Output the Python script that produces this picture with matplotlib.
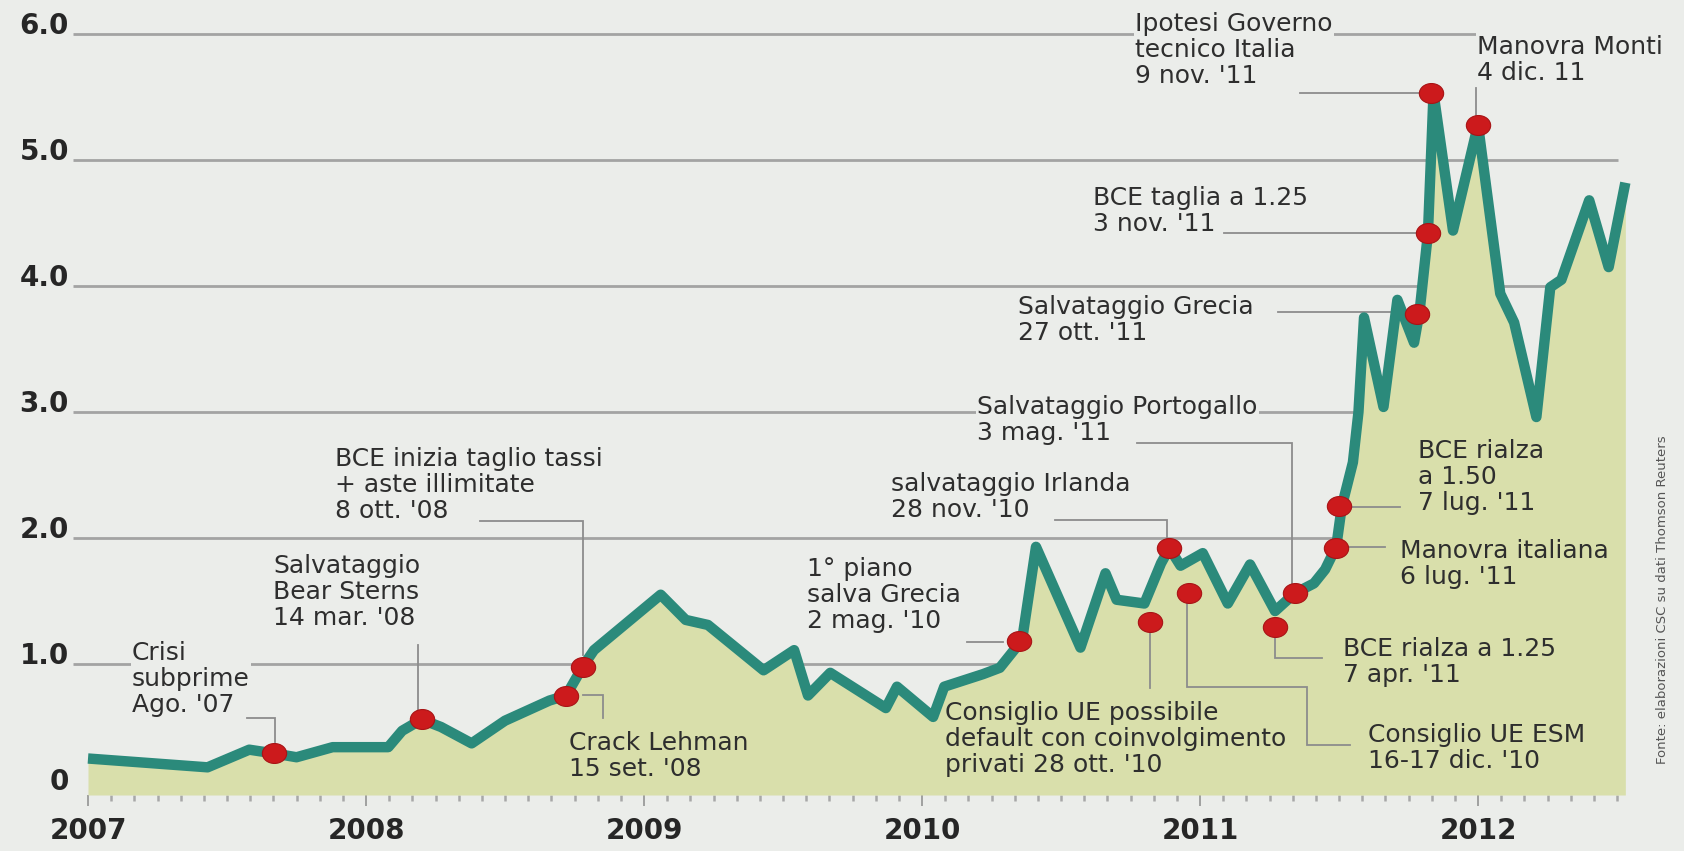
import matplotlib
matplotlib.use("Agg")
import matplotlib.pyplot as plt
from matplotlib.path import Path
from matplotlib.transforms import Affine2D
from matplotlib.ticker import MultipleLocator

# ---------------- data (decimal year, spread in percentage points) ----------------
spread_t = [2007.00, 2007.43, 2007.58, 2007.67, 2007.75, 2007.88, 2008.08, 2008.13, 2008.20, 2008.27,
            2008.38, 2008.50, 2008.66, 2008.72, 2008.78, 2008.82, 2009.06, 2009.15, 2009.23, 2009.43,
            2009.54, 2009.59, 2009.67, 2009.87, 2009.91, 2010.04, 2010.08, 2010.22, 2010.28, 2010.36,
            2010.41, 2010.57, 2010.66, 2010.70, 2010.80, 2010.86, 2010.89, 2010.93, 2011.01, 2011.10,
            2011.18, 2011.27, 2011.34, 2011.41, 2011.45, 2011.49, 2011.51, 2011.55, 2011.57, 2011.59,
            2011.66, 2011.71, 2011.77, 2011.79, 2011.82, 2011.84, 2011.91, 2012.00, 2012.08, 2012.13,
            2012.21, 2012.26, 2012.30, 2012.40, 2012.47, 2012.53]
spread_v = [0.25, 0.18, 0.32, 0.29, 0.26, 0.34, 0.34, 0.47, 0.56, 0.50,
            0.37, 0.55, 0.71, 0.75, 0.98, 1.11, 1.55, 1.35, 1.31, 0.95,
            1.11, 0.75, 0.93, 0.65, 0.82, 0.58, 0.82, 0.92, 0.97, 1.19,
            1.93, 1.13, 1.72, 1.51, 1.48, 1.80, 1.92, 1.78, 1.88, 1.48,
            1.79, 1.42, 1.56, 1.64, 1.75, 1.93, 2.25, 2.60, 3.00, 3.75,
            3.04, 3.89, 3.55, 3.80, 4.42, 5.53, 4.44, 5.28, 3.94, 3.71,
            2.96, 3.99, 4.05, 4.68, 4.15, 4.82]

event_t = [2007.67, 2008.20, 2008.72, 2008.78, 2010.35, 2010.82, 2010.89, 2010.96,
           2011.27, 2011.34, 2011.49, 2011.50, 2011.78, 2011.82, 2011.83, 2012.00]
event_v = [0.29, 0.56, 0.75, 0.98, 1.18, 1.33, 1.92, 1.56,
           1.29, 1.56, 1.92, 2.25, 3.78, 4.42, 5.53, 5.28]
event_labels = [
    "Crisi\nsubprime\nAgo. '07",
    "Salvataggio\nBear Sterns\n14 mar. '08",
    "Crack Lehman\n15 set. '08",
    "BCE inizia taglio tassi\n+ aste illimitate\n8 ott. '08",
    "1° piano\nsalva Grecia\n2 mag. '10",
    "Consiglio UE possibile\ndefault con coinvolgimento\nprivati 28 ott. '10",
    "salvataggio Irlanda\n28 nov. '10",
    "Consiglio UE ESM\n16-17 dic. '10",
    "BCE rialza a 1.25\n7 apr. '11",
    "Salvataggio Portogallo\n3 mag. '11",
    "Manovra italiana\n6 lug. '11",
    "BCE rialza\na 1.50\n7 lug. '11",
    "Salvataggio Grecia\n27 ott. '11",
    "BCE taglia a 1.25\n3 nov. '11",
    "Ipotesi Governo\ntecnico Italia\n9 nov. '11",
    "Manovra Monti\n4 dic. 11",
]

year_ticks = [2007, 2008, 2009, 2010, 2011, 2012]
year_labels = ["2007", "2008", "2009", "2010", "2011", "2012"]
y_levels = [0, 1, 2, 3, 4, 5, 6]
y_labels = ["0", "1.0", "2.0", "3.0", "4.0", "5.0", "6.0"]
source = "Fonte: elaborazioni CSC su dati Thomson Reuters"

# ---------------- layout (reference pixel positions) ----------------
W, H = 1684, 851
BG = "#ebedea"
FILL = "#d9dfab"
TEAL = "#2b8a7b"
RED = "#cc1a1c"
GRID = "#a3a3a3"
LEAD = "#8c8c8c"
TXT = "#2e2e2e"
AXTXT = "#262626"


def px(x, y):
    return 2007 + (x - 88) / 278.0, (790 - y) / 126.0


# label: (left px, centre px, boxed?)
label_pos = [(132, 679, True), (273, 592, True), (569, 756, False), (335, 485, True),
             (807, 595, True), (945, 739, False), (891, 497, True), (1368, 748, False),
             (1343, 662, False), (977, 420, True), (1400, 564, False), (1418, 477, False),
             (1018, 320, True), (1093, 211, True), (1135, 50, True), (1477, 60, True)]
leaders = [
    [(247, 718), (275, 718), (275, 742)],
    [(418, 645), (418, 712)],
    [(583, 695), (603, 695), (603, 718)],
    [(480, 521), (583, 521), (583, 655)],
    [(967, 642), (1003, 642)],
    [(1150, 630), (1150, 688)],
    [(1055, 520), (1167, 520), (1167, 538)],
    [(1187, 600), (1187, 687), (1307, 687), (1307, 745), (1350, 745)],
    [(1275, 635), (1275, 658), (1322, 658)],
    [(1137, 443), (1292, 443), (1292, 585)],
    [(1345, 547), (1385, 547)],
    [(1350, 507), (1400, 507)],
    [(1278, 312), (1405, 312)],
    [(1224, 233), (1418, 233)],
    [(1300, 93), (1420, 93)],
    [(1476, 88), (1476, 115)],
]

x0, y_top = px(73, 20)
x1, y_bot = px(1631, 795)

fig = plt.figure(figsize=(W / 100, H / 100), dpi=100, facecolor=BG)
ax = fig.add_axes([73 / W, (H - 795) / H, (1631 - 73) / W, (795 - 20) / H])
ax.set_facecolor(BG)
ax.set_xlim(x0, x1)
ax.set_ylim(y_bot, y_top)
for s in ax.spines.values():
    s.set_visible(False)

# gridlines
ax.hlines(y_levels[1:], x0, px(1618, 0)[0], colors=GRID, lw=2.0, zorder=1)

# area + line
ax.fill_between(spread_t, spread_v, y_bot, color=FILL, lw=0, zorder=2)

for lab, (lx, ly, boxed) in zip(event_labels, label_pos):
    bx = dict(boxstyle="square,pad=0.06", fc=BG, ec="none") if boxed else None
    ax.text(*px(lx, ly), lab, ha="left", va="center", fontsize=18, color=TXT,
            linespacing=1.13, zorder=3, bbox=bx)

for pts in leaders:
    xs, ys = zip(*[px(a, b) for a, b in pts])
    ax.plot(xs, ys, color=LEAD, lw=1.3, zorder=4, solid_joinstyle="miter")

ax.plot(spread_t, spread_v, color=TEAL, lw=7.5, zorder=5,
        solid_joinstyle="round", solid_capstyle="butt")

ellipse = Path.unit_circle().transformed(Affine2D().scale(1.0, 0.82))
ax.plot(event_t, event_v, ls="none", marker=ellipse, ms=17.5,
        mfc=RED, mec="#a81416", mew=0.8, zorder=6)

# y labels
for lv, lab in zip(y_levels, y_labels):
    ax.annotate(lab, xy=(0, lv), xycoords=("axes fraction", "data"),
                xytext=(-4, 0), textcoords="offset pixels", ha="right", va="baseline",
                fontsize=20, fontweight="bold", color=AXTXT, annotation_clip=False)
ax.tick_params(axis="y", left=False, labelleft=False)

# x axis
ax.set_xticks(year_ticks)
ax.set_xticklabels(year_labels, fontsize=20, fontweight="bold", color=AXTXT)
ax.xaxis.set_minor_locator(MultipleLocator(1 / 12))
ax.tick_params(axis="x", which="major", length=8, width=1.3, color="#9a9a9a", pad=8)
ax.tick_params(axis="x", which="minor", length=4, width=1.8, color="#a8a8a8")

fig.text(1663 / W, 1 - 600 / H, source, rotation=90, ha="center", va="center",
         fontsize=9.5, color="#555555")

fig.savefig("out.png", dpi=100, facecolor=BG)
